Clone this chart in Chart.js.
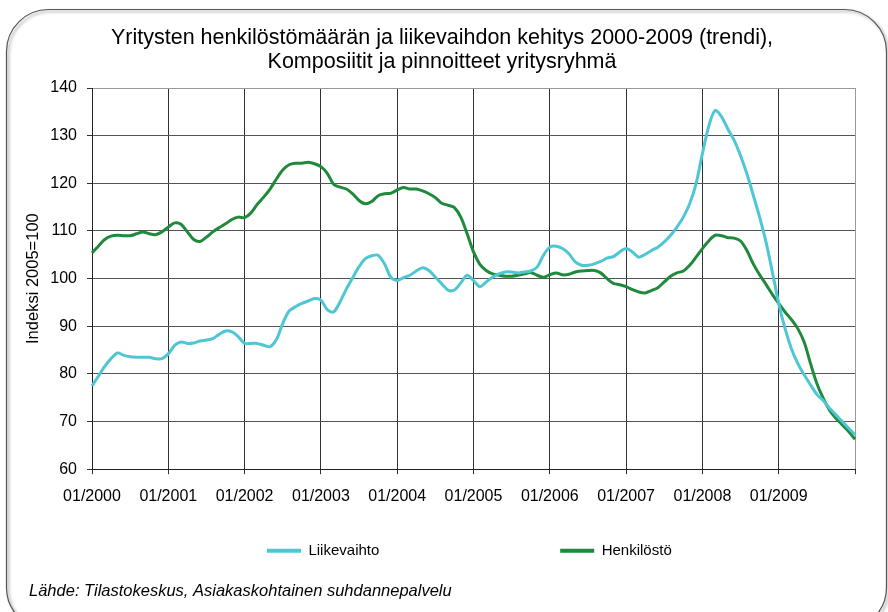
<!DOCTYPE html>
<html>
<head>
<meta charset="utf-8">
<script src="https://cdn.jsdelivr.net/npm/chart.js@4.4.1/dist/chart.umd.min.js"></script>
<style>
  html, body { margin: 0; padding: 0; background: #fff; }
</style>
</head>
<body>
<canvas id="chart" width="888" height="612"></canvas>
<script>
const titleLines = [
    'Yritysten henkilöstömäärän ja liikevaihdon kehitys 2000-2009 (trendi),',
    'Komposiitit ja pinnoitteet yritysryhmä'
];
const sourceText = 'Lähde: Tilastokeskus, Asiakaskohtainen suhdannepalvelu';
const yTitle = 'Indeksi 2005=100';
const seriesNames = ['Liikevaihto', 'Henkilöstö'];
const seriesColors = ['#4fc6d4', '#1f8a3c'];
const yMin = 60, yMax = 140, yStep = 10;

// monthly categories 01/2000 ... 01/2010 (a tick label every 12th)
const months = [];
for (let y = 2000; y <= 2010; y++) {
    for (let m = 1; m <= 12; m++) {
        if (y === 2010 && m > 1) break;
        months.push((m < 10 ? '0' + m : '' + m) + '/' + y);
    }
}

// Liikevaihto (turnover), index 2005=100
const liikevaihto = [
    77.5, 79.5, 81.6, 83.2, 84.4, 83.9, 83.6, 83.5, 83.5, 83.5, 83.2, 83.2,
    84.2, 86.0, 86.7, 86.4, 86.5, 86.9, 87.1, 87.4, 88.3, 89.0, 88.8, 87.8,
    86.4, 86.4, 86.4, 86.0, 85.7, 87.2, 90.6, 93.2, 94.1, 94.8, 95.3, 95.8,
    95.5, 93.5, 93.0, 95.1, 97.8, 100.2, 102.5, 104.2, 104.8, 104.9, 103.1, 100.3,
    99.6, 100.2, 100.7, 101.6, 102.3, 101.7, 100.3, 98.9, 97.6, 97.6, 99.1, 100.7,
    99.6, 98.3, 99.3, 100.3, 101.0, 101.4, 101.4, 101.2, 101.4, 101.6, 102.4, 104.9,
    106.6, 106.8, 106.3, 105.2, 103.5, 102.8, 102.8, 103.1, 103.6, 104.3, 104.6, 105.6,
    106.3, 105.6, 104.5, 105.1, 105.9, 106.6, 107.7, 109.1, 110.8, 112.9, 115.7, 119.9,
    126.2, 132.0, 135.3, 134.0, 131.4, 129.0, 125.8, 122.0, 117.5, 112.9, 107.7, 101.4,
    94.8, 89.5, 85.3, 82.2, 79.8, 77.7, 75.7, 74.4, 72.8, 71.4, 70.0, 68.6,
    67.2
];

// Henkilöstö (personnel), index 2005=100
const henkilosto = [
    105.4, 106.8, 108.2, 108.9, 109.1, 109.0, 109.0, 109.4, 109.8, 109.4, 109.2, 109.8,
    110.8, 111.7, 111.4, 109.8, 108.2, 107.8, 108.7, 109.8, 110.7, 111.5, 112.4, 112.9,
    112.8, 113.8, 115.6, 117.1, 118.8, 120.9, 122.8, 123.9, 124.2, 124.2, 124.4, 124.1,
    123.5, 122.1, 119.8, 119.2, 118.8, 117.8, 116.4, 115.7, 116.2, 117.4, 117.8, 117.9,
    118.6, 119.1, 118.8, 118.8, 118.4, 117.8, 117.0, 115.8, 115.4, 114.9, 112.9, 109.4,
    105.6, 103.0, 101.7, 101.0, 100.7, 100.5, 100.5, 100.7, 101.0, 101.3, 100.7, 100.3,
    100.8, 101.2, 100.8, 100.9, 101.4, 101.6, 101.7, 101.7, 101.2, 100.0, 99.0, 98.7,
    98.3, 97.7, 97.2, 97.0, 97.5, 98.1, 99.3, 100.5, 101.2, 101.6, 102.8, 104.5,
    106.3, 107.9, 109.1, 109.0, 108.6, 108.5, 107.9, 105.9, 103.1, 100.8, 98.8, 96.7,
    94.8, 93.0, 91.4, 89.5, 86.7, 82.2, 78.0, 74.9, 72.4, 70.7, 69.3, 67.9,
    66.3
];

const FONT = "'Liberation Sans', Arial, sans-serif";

// rounded slide frame behind the chart
const framePlugin = {
    id: 'frame',
    beforeDraw(chart) {
        const ctx = chart.ctx;
        ctx.save();
        ctx.fillStyle = '#fff';
        ctx.fillRect(0, 0, chart.width, chart.height);
        ctx.shadowColor = 'rgba(0,0,0,0.45)';
        ctx.shadowBlur = 3;
        ctx.shadowOffsetX = 2;
        ctx.shadowOffsetY = 2;
        ctx.strokeStyle = '#555';
        ctx.lineWidth = 1.2;
        ctx.beginPath();
        ctx.roundRect(6.5, 9.5, 880, 620, 42);
        ctx.stroke();
        ctx.restore();
    }
};

new Chart('chart', {
    type: 'line',
    data: {
        labels: months,
        datasets: [
            {
                label: seriesNames[0],
                data: liikevaihto,
                borderColor: seriesColors[0],
                backgroundColor: seriesColors[0],
                borderWidth: 3,
                pointRadius: 0,
                tension: 0.3,
                fill: false
            },
            {
                label: seriesNames[1],
                data: henkilosto,
                borderColor: seriesColors[1],
                backgroundColor: seriesColors[1],
                borderWidth: 3,
                pointRadius: 0,
                tension: 0.3,
                fill: false
            }
        ]
    },
    options: {
        responsive: false,
        animation: false,
        layout: { padding: { left: 29, right: 33, top: 0, bottom: 4 } },
        plugins: {
            title: {
                display: true,
                text: titleLines,
                color: '#000',
                font: { family: FONT, size: 21.5, weight: 'normal', lineHeight: '24px' },
                padding: { top: 26, bottom: 14 }
            },
            subtitle: {
                display: true,
                position: 'bottom',
                align: 'start',
                text: sourceText,
                color: '#000',
                font: { family: FONT, size: 16.5, style: 'italic', lineHeight: 1.2 },
                padding: { top: 13, bottom: 7 }
            },
            legend: {
                display: true,
                position: 'bottom',
                fullSize: false,
                labels: {
                    color: '#000',
                    font: { family: FONT, size: 15 },
                    boxWidth: 34,
                    boxHeight: 4,
                    padding: 10,
                    generateLabels(chart) {
                        const items = Chart.defaults.plugins.legend.labels.generateLabels(chart);
                        items.forEach((it, i) => {
                            it.lineWidth = 0;
                            // Excel-like wide spacing between the two entries
                            it.text = i === 0 ? it.text + ' '.repeat(41) : it.text + '  ';
                        });
                        return items;
                    }
                }
            },
            tooltip: { enabled: false }
        },
        scales: {
            x: {
                type: 'category',
                afterFit(scale) { scale.height = 64; },
                border: { color: '#222', width: 1 },
                grid: {
                    color: (c) => c.index % 12 === 0 ? (c.index === 120 ? '#999' : '#333') : 'rgba(0,0,0,0)',
                    tickColor: (c) => c.index % 12 === 0 ? '#333' : 'rgba(0,0,0,0)',
                    tickLength: 5,
                    lineWidth: 1
                },
                ticks: {
                    autoSkip: false,
                    maxRotation: 0,
                    minRotation: 0,
                    padding: 13,
                    color: '#000',
                    font: { family: FONT, size: 16 },
                    callback: (v, i) => (i % 12 === 0 && i < 120) ? months[i] : ''
                }
            },
            y: {
                min: yMin,
                max: yMax,
                afterFit(scale) { scale.width = 63; },
                border: { color: '#222', width: 1 },
                grid: {
                    color: (c) => c.tick && c.tick.value === yMax ? '#999' : '#555',
                    tickColor: '#333',
                    tickLength: 5,
                    lineWidth: 1
                },
                ticks: {
                    stepSize: yStep,
                    padding: 10,
                    color: '#000',
                    font: { family: FONT, size: 16 }
                },
                title: {
                    display: true,
                    text: yTitle,
                    color: '#000',
                    font: { family: FONT, size: 16.5 },
                    padding: { top: -5, bottom: 0 }
                }
            }
        }
    },
    plugins: [framePlugin]
});
</script>
</body>
</html>
